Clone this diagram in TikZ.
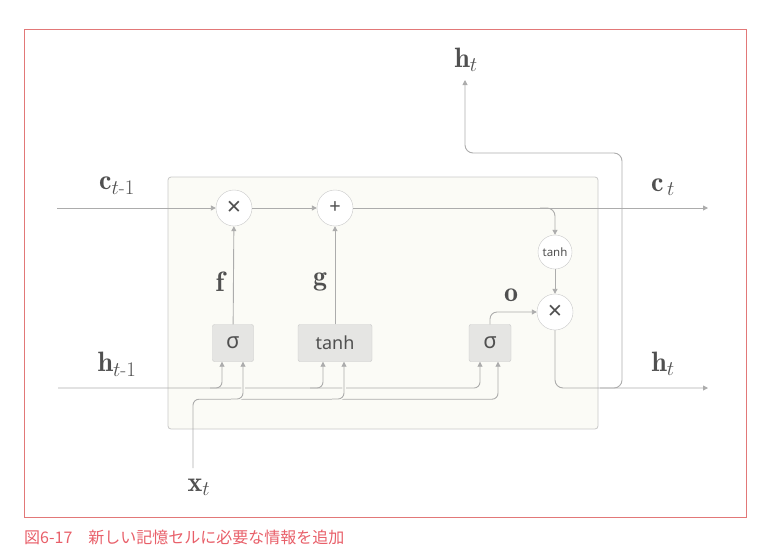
\documentclass[tikz,border=0pt]{standalone}
\usepackage{fontspec}
\usepackage{amsmath}
\setsansfont{Noto Sans}
\newfontfamily\jpfont{Noto Sans CJK JP}
\usetikzlibrary{arrows.meta,calc}
\definecolor{ln}{RGB}{172,172,172}
\definecolor{lbl}{RGB}{80,80,80}
\definecolor{framecol}{RGB}{226,120,120}
\definecolor{capcol}{RGB}{232,95,105}
\definecolor{boxfill}{RGB}{251,251,246}
\definecolor{gatefill}{RGB}{229,229,227}
\definecolor{gateline}{RGB}{200,200,200}
\begin{document}
\begin{tikzpicture}[x=1pt,y=-1pt,
  conn/.style={draw=ln, line width=0.9pt},
  arr/.style={conn,-{Triangle[width=5pt,length=5pt]}},
  hop/.style={preaction={draw=boxfill, line width=3.5pt}},
  op/.style={circle, draw=gateline, fill=white, minimum size=36pt, inner sep=0pt,
    font=\sffamily\fontsize{25}{25}\selectfont, text=lbl},
  gate/.style={draw=gateline, fill=gatefill, rounded corners=2pt, minimum height=37pt,
    inner sep=0pt, font=\sffamily\fontsize{22}{22}\selectfont, text=lbl},
  lab/.style={text=lbl, font=\fontsize{28}{28}\selectfont, inner sep=0pt}
]
\useasboundingbox (0,0) rectangle (765,558);
\draw[draw=framecol, line width=0.8pt] (24,29) rectangle (746,517);
\node[draw=gateline, fill=boxfill, rounded corners=3pt, minimum width=430pt,
  minimum height=252pt, inner sep=0pt, line width=0.8pt] (cell) at (383,303) {};

% operators
\node[op] (m1) at (234,208) {×};
\node[op, font=\sffamily\fontsize{20}{20}\selectfont] (a1) at (335,208) {+};
\node[op, minimum size=34pt, font=\sffamily\fontsize{11.5}{11.5}\selectfont] (th) at (555,252) {tanh};
\node[op] (m2) at (555,312) {×};
\node[gate, minimum width=41pt] (s1) at (233,343) {σ};
\node[gate, minimum width=74pt, font=\sffamily\fontsize{18}{18}\selectfont] (tb) at (335,343) {tanh};
\node[gate, minimum width=42pt] (s3) at (490,343) {σ};

% labels
\node[lab] (htop) at (466,60) {$\mathbf{h}_{t}$};
\node[lab] (lc0) at (117,186) {$\mathbf{c}_{t\text{-}1}$};
\node[lab] (lc1) at (663,187) {$\mathbf{c}_{\,t}$};
\node[lab] (lh0) at (117,364) {$\mathbf{h}_{t\text{-}1}$};
\node[lab] (lh1) at (663,364) {$\mathbf{h}_{t}$};
\node[lab] (lx) at (199,487) {$\mathbf{x}_{t}$};
\node[lab] (lf) at (220,282) {$\mathbf{f}$};
\node[lab] (lg) at (320,282) {$\mathbf{g}$};
\node[lab] (lo) at (511,295) {$\mathbf{o}$};

% coordinates
\coordinate (cin) at (57,208);
\coordinate (cout) at (708,208);
\coordinate (cbr) at (540,208);
\coordinate (hin) at (58,388);
\coordinate (hout) at (708,388);
\coordinate (hj) at (600,388);
\coordinate (hup) at (465,80);
\coordinate (xin) at (193,468);
\coordinate (s1a) at ($(s1.south)+(-11,0)$);
\coordinate (s1b) at ($(s1.south)+(10,0)$);
\coordinate (tba) at ($(tb.south)+(-12,0)$);
\coordinate (tbb) at ($(tb.south)+(9,0)$);
\coordinate (s3a) at ($(s3.south)+(-10,0)$);
\coordinate (s3b) at ($(s3.south)+(8,0)$);
\coordinate (hb1) at (210,388);
\coordinate (hb2) at (310,388);
\coordinate (xb1) at (231,399);
\coordinate (xb2) at (332,399);

% cell state line
\draw[arr] (cin) -- (m1);
\draw[arr] (m1) -- (a1);
\draw[arr] (a1) -- (cout);
\draw[arr, rounded corners=8pt] (cbr) -| (th.north);
\draw[arr] (th) -- (m2);
\draw[arr] (s1) -- (m1);
\draw[arr] (tb) -- (a1);
\draw[arr, rounded corners=7pt] (s3.north) |- (m2.west);

% output h
\draw[arr, rounded corners=8pt] (m2.south) |- (hout);
\draw[arr, rounded corners=8pt] (hj) -| (622,153) -| (hup);

% h_{t-1} input
\draw[arr, rounded corners=6pt] (hin) -| (s3a);
\draw[arr, rounded corners=6pt] (hb1) -| (s1a);
\draw[arr, rounded corners=6pt] (hb2) -| (tba);

% x_t input
\draw[arr, rounded corners=6pt] (xin) |- ($(s3b)+(0,37.5)$) -- (s3b);
\draw[arr, hop, rounded corners=6pt] (xb1) -| (s1b);
\draw[arr, hop, rounded corners=6pt] (xb2) -| (tbb);

% caption
\node[anchor=west, text=capcol, font=\jpfont\fontsize{16}{16}\selectfont, inner sep=0pt]
  (cap) at (24,537) {図6-17　新しい記憶セルに必要な情報を追加};
\end{tikzpicture}
\end{document}
